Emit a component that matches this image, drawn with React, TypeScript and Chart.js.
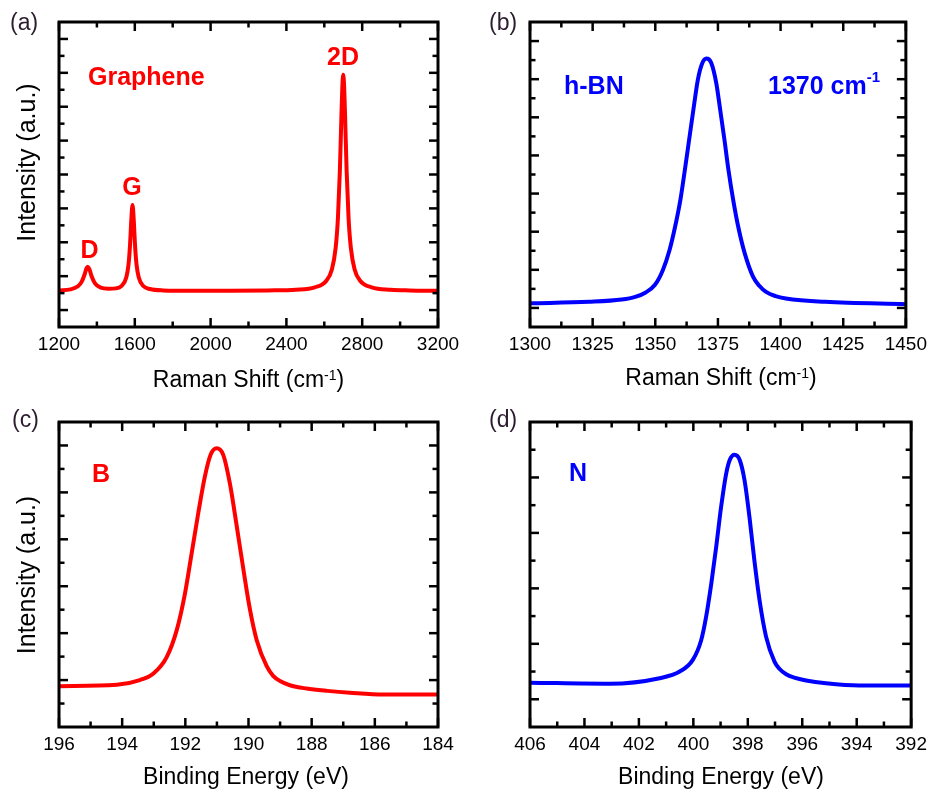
import React, { useEffect, useRef } from 'react';
import { Chart, registerables } from 'chart.js';

Chart.register(...registerables);

const FONT = "'Liberation Sans', Arial, Helvetica, sans-serif";
const RED = '#ff0000';
const BLUE = '#0000ff';
const LABEL_COLOR = '#2d1c30';

// (a) Raman spectrum of graphene
const grapheneShift = [1200, 1260, 1300, 1320, 1335, 1345, 1352, 1360, 1372, 1390, 1420, 1460, 1500, 1530, 1555, 1567, 1575, 1581, 1588, 1595, 1601, 1609, 1621, 1645, 1680, 1750, 1900, 2100, 2300, 2450, 2550, 2610, 2640, 2660, 2672, 2682, 2690, 2695, 2700, 2705, 2710, 2718, 2728, 2740, 2760, 2790, 2850, 2950, 3050, 3200];
const grapheneIntensity = [0.58, 0.61, 0.70, 0.84, 1.05, 1.23, 1.28, 1.21, 1.00, 0.79, 0.66, 0.63, 0.64, 0.71, 0.96, 1.35, 1.93, 2.60, 3.10, 2.60, 1.93, 1.35, 0.96, 0.71, 0.62, 0.58, 0.57, 0.57, 0.58, 0.60, 0.67, 0.86, 1.20, 1.84, 2.72, 4.08, 5.66, 6.56, 6.94, 6.56, 5.66, 4.08, 2.72, 1.84, 1.20, 0.86, 0.67, 0.60, 0.58, 0.57];
const grapheneXMajor = [1200, 1600, 2000, 2400, 2800, 3200];
const grapheneXMinor = [1400, 1800, 2200, 2600, 3000];
const grapheneYMajor = [0, 1, 2, 3, 4, 5, 6, 7, 8];
const grapheneYMinor = [0.5, 1.5, 2.5, 3.5, 4.5, 5.5, 6.5, 7.5];

// (b) Raman spectrum of h-BN
const hbnShift = [1300, 1323.6, 1336.6, 1342.0, 1346.0, 1349.8, 1353.0, 1355.7, 1357.9, 1360.0, 1361.8, 1363.5, 1365.2, 1367.0, 1368.7, 1370.4, 1372.3, 1374.3, 1375.9, 1377.6, 1379.2, 1381.1, 1383.1, 1385.7, 1389.0, 1391.5, 1394.2, 1398.0, 1402.1, 1417.8, 1450];
const hbnIntensity = [0.12, 0.16, 0.22, 0.29, 0.40, 0.60, 0.99, 1.52, 2.13, 2.83, 3.62, 4.41, 5.20, 5.99, 6.41, 6.54, 6.43, 5.91, 5.20, 4.41, 3.62, 2.83, 2.13, 1.43, 0.82, 0.58, 0.42, 0.31, 0.25, 0.16, 0.10];
const hbnXMajor = [1300, 1325, 1350, 1375, 1400, 1425, 1450];
const hbnXMinor = [1312.5, 1337.5, 1362.5, 1387.5, 1412.5, 1437.5];
const hbnYMajor = [0, 1, 2, 3, 4, 5, 6, 7];
const hbnYMinor = [0.5, 1.5, 2.5, 3.5, 4.5, 5.5, 6.5];

// (c) XPS B 1s
const boronEnergy = [196, 194.17, 193.44, 193.01, 192.59, 192.27, 192.01, 191.80, 191.59, 191.38, 191.20, 191.01, 190.80, 190.59, 190.37, 190.16, 189.95, 189.74, 189.42, 189.22, 189.00, 188.69, 188.16, 187.50, 186.79, 185.73, 184];
const boronIntensity = [-0.13, -0.10, 0.00, 0.14, 0.49, 1.07, 1.85, 2.70, 3.56, 4.34, 4.80, 4.94, 4.80, 4.19, 3.27, 2.35, 1.49, 0.85, 0.29, 0.09, -0.02, -0.11, -0.18, -0.23, -0.27, -0.31, -0.31];
const boronXMajor = [196, 194, 192, 190, 188, 186, 184];
const boronXMinor = [195, 193, 191, 189, 187, 185];
const boronYMajor = [0, 1, 2, 3, 4, 5];
const boronYMinor = [-0.5, 0.5, 1.5, 2.5, 3.5, 4.5];

// (d) XPS N 1s
const nitrogenEnergy = [406, 403.07, 401.24, 400.50, 400.02, 399.71, 399.53, 399.34, 399.16, 398.98, 398.79, 398.65, 398.49, 398.30, 398.12, 397.94, 397.76, 397.57, 397.33, 397.02, 396.84, 396.59, 396.29, 395.86, 395.13, 393.91, 392];
const nitrogenIntensity = [0.30, 0.28, 0.38, 0.50, 0.71, 1.07, 1.49, 2.09, 2.75, 3.47, 4.08, 4.33, 4.41, 4.32, 3.95, 3.29, 2.51, 1.79, 1.13, 0.68, 0.55, 0.45, 0.39, 0.34, 0.29, 0.25, 0.25];
const nitrogenXMajor = [406, 404, 402, 400, 398, 396, 394, 392];
const nitrogenXMinor = [405, 403, 401, 399, 397, 395, 393];
const nitrogenYMajor = [0, 1, 2, 3, 4];
const nitrogenYMinor = [0.5, 1.5, 2.5, 3.5, 4.5];

type Piece = { text: string; size: number; bold?: boolean; dy?: number };
type TextItem = { pieces: Piece[]; x: number; y: number; align: 'left' | 'center'; color: string; rotate?: boolean };

type Panel = {
  key: string;
  left: number; top: number; width: number; height: number;
  xs: number[]; ys: number[]; color: string;
  xMin: number; xMax: number; reverse: boolean;
  yMin: number; yMax: number;
  xMajor: number[]; xMinor: number[]; yMajor: number[]; yMinor: number[];
  yAxisWidth: number; xAxisHeight: number; padRight: number; padTop: number;
  texts: TextItem[];
};

const ramanTitle: Piece[] = [
  { text: 'Raman Shift (cm', size: 23 },
  { text: '-1', size: 14, dy: -7 },
  { text: ')', size: 23 },
];
const bindingTitle: Piece[] = [{ text: 'Binding Energy (eV)', size: 23 }];
const intensityTitle: Piece[] = [{ text: 'Intensity (a.u.)', size: 25 }];

const panels: Panel[] = [
  {
    key: 'a', left: 0, top: 0, width: 466, height: 400,
    xs: grapheneShift, ys: grapheneIntensity, color: RED,
    xMin: 1200, xMax: 3200, reverse: false, yMin: -0.5, yMax: 8.5,
    xMajor: grapheneXMajor, xMinor: grapheneXMinor, yMajor: grapheneYMajor, yMinor: grapheneYMinor,
    yAxisWidth: 59, xAxisHeight: 73, padRight: 28, padTop: 22,
    texts: [
      { pieces: [{ text: '(a)', size: 23 }], x: 10, y: 30, align: 'left', color: LABEL_COLOR },
      { pieces: ramanTitle, x: 248.5, y: 386.5, align: 'center', color: '#000' },
      { pieces: intensityTitle, x: 35, y: 162.5, align: 'center', color: '#000', rotate: true },
      { pieces: [{ text: 'Graphene', size: 25, bold: true }], x: 88, y: 85, align: 'left', color: RED },
      { pieces: [{ text: '2D', size: 25, bold: true }], x: 343, y: 65, align: 'center', color: RED },
      { pieces: [{ text: 'G', size: 25, bold: true }], x: 132, y: 195, align: 'center', color: RED },
      { pieces: [{ text: 'D', size: 25, bold: true }], x: 89.5, y: 258, align: 'center', color: RED },
    ],
  },
  {
    key: 'b', left: 466, top: 0, width: 467, height: 400,
    xs: hbnShift, ys: hbnIntensity, color: BLUE,
    xMin: 1300, xMax: 1450, reverse: false, yMin: -0.5, yMax: 7.5,
    xMajor: hbnXMajor, xMinor: hbnXMinor, yMajor: hbnYMajor, yMinor: hbnYMinor,
    yAxisWidth: 64, xAxisHeight: 73, padRight: 21, padTop: 22,
    texts: [
      { pieces: [{ text: '(b)', size: 23 }], x: 23, y: 30, align: 'left', color: LABEL_COLOR },
      { pieces: ramanTitle, x: 255, y: 385, align: 'center', color: '#000' },
      { pieces: [{ text: 'h-BN', size: 25, bold: true }], x: 98, y: 94, align: 'left', color: BLUE },
      {
        pieces: [
          { text: '1370 cm', size: 25, bold: true },
          { text: '-1', size: 15, bold: true, dy: -12 },
        ],
        x: 302, y: 94, align: 'left', color: BLUE,
      },
    ],
  },
  {
    key: 'c', left: 0, top: 400, width: 466, height: 389,
    xs: boronEnergy, ys: boronIntensity, color: RED,
    xMin: 184, xMax: 196, reverse: true, yMin: -1, yMax: 5.5,
    xMajor: boronXMajor, xMinor: boronXMinor, yMajor: boronYMajor, yMinor: boronYMinor,
    yAxisWidth: 59, xAxisHeight: 62, padRight: 28, padTop: 22,
    texts: [
      { pieces: [{ text: '(c)', size: 23 }], x: 12, y: 27, align: 'left', color: LABEL_COLOR },
      { pieces: bindingTitle, x: 246, y: 384, align: 'center', color: '#000' },
      { pieces: intensityTitle, x: 34.5, y: 175, align: 'center', color: '#000', rotate: true },
      { pieces: [{ text: 'B', size: 25, bold: true }], x: 92, y: 82, align: 'left', color: RED },
    ],
  },
  {
    key: 'd', left: 466, top: 400, width: 467, height: 389,
    xs: nitrogenEnergy, ys: nitrogenIntensity, color: BLUE,
    xMin: 392, xMax: 406, reverse: true, yMin: -0.5, yMax: 5,
    xMajor: nitrogenXMajor, xMinor: nitrogenXMinor, yMajor: nitrogenYMajor, yMinor: nitrogenYMinor,
    yAxisWidth: 64, xAxisHeight: 62, padRight: 21, padTop: 22,
    texts: [
      { pieces: [{ text: '(d)', size: 23 }], x: 23, y: 27, align: 'left', color: LABEL_COLOR },
      { pieces: bindingTitle, x: 255, y: 384, align: 'center', color: '#000' },
      { pieces: [{ text: 'N', size: 25, bold: true }], x: 103, y: 81, align: 'left', color: BLUE },
    ],
  },
];

function fontOf(p: Piece) {
  return `${p.bold ? 'bold ' : ''}${p.size}px ${FONT}`;
}

function drawText(ctx: CanvasRenderingContext2D, t: TextItem) {
  ctx.save();
  ctx.fillStyle = t.color;
  ctx.textBaseline = 'alphabetic';
  ctx.textAlign = 'left';
  const widths = t.pieces.map((p) => {
    ctx.font = fontOf(p);
    return ctx.measureText(p.text).width;
  });
  const total = widths.reduce((a, b) => a + b, 0);
  ctx.translate(t.x, t.y);
  if (t.rotate) ctx.rotate(-Math.PI / 2);
  let x = t.align === 'center' ? -total / 2 : 0;
  t.pieces.forEach((p, i) => {
    ctx.font = fontOf(p);
    ctx.fillText(p.text, x, p.dy || 0);
    x += widths[i];
  });
  ctx.restore();
}

function makeDecor(p: Panel) {
  return {
    id: 'decor_' + p.key,
    afterDraw(chart: any) {
      const ctx: CanvasRenderingContext2D = chart.ctx;
      const { left, right, top, bottom } = chart.chartArea;
      const xs = chart.scales.x;
      const ys = chart.scales.y;
      ctx.save();
      ctx.strokeStyle = '#000';
      ctx.lineCap = 'butt';
      ctx.lineWidth = 2.5;
      const seg = (x1: number, y1: number, x2: number, y2: number) => {
        ctx.beginPath();
        ctx.moveTo(x1, y1);
        ctx.lineTo(x2, y2);
        ctx.stroke();
      };
      const xTicks = (vals: number[], len: number) =>
        vals.forEach((v) => {
          const px = xs.getPixelForValue(v);
          seg(px, bottom, px, bottom - len);
          seg(px, top, px, top + len);
        });
      const yTicks = (vals: number[], len: number) =>
        vals.forEach((v) => {
          const py = ys.getPixelForValue(v);
          seg(left, py, left + len, py);
          seg(right, py, right - len, py);
        });
      xTicks(p.xMajor, 9);
      xTicks(p.xMinor, 5.5);
      yTicks(p.yMajor, 9);
      yTicks(p.yMinor, 5.5);
      ctx.lineWidth = 3;
      ctx.strokeRect(left, top, right - left, bottom - top);
      ctx.restore();
      p.texts.forEach((t) => drawText(ctx, t));
    },
  };
}

function PanelChart({ p }: { p: Panel }) {
  const ref = useRef<HTMLCanvasElement>(null);
  useEffect(() => {
    if (!ref.current) return;
    const chart = new Chart(ref.current, {
      type: 'line',
      data: {
        datasets: [
          {
            data: p.xs.map((x, i) => ({ x, y: p.ys[i] })),
            borderColor: p.color,
            borderWidth: 4,
            pointRadius: 0,
            cubicInterpolationMode: 'monotone',
            borderJoinStyle: 'round',
            borderCapStyle: 'round',
            fill: false,
          } as any,
        ],
      },
      options: {
        animation: false,
        responsive: false,
        devicePixelRatio: 1,
        events: [],
        layout: { padding: { left: 0, top: p.padTop, right: p.padRight, bottom: 0 } },
        plugins: {
          legend: { display: false },
          tooltip: { enabled: false },
          title: { display: false },
        },
        scales: {
          x: {
            type: 'linear',
            min: p.xMin,
            max: p.xMax,
            reverse: p.reverse,
            grid: { display: false, drawTicks: false },
            border: { display: false },
            ticks: {
              font: { family: FONT, size: 19 },
              color: '#000',
              padding: 6,
              maxRotation: 0,
              autoSkip: false,
              callback: (v: any) => String(v),
            },
            afterBuildTicks: (s: any) => {
              s.ticks = p.xMajor.map((v) => ({ value: v }));
            },
            afterFit: (s: any) => {
              s.height = p.xAxisHeight;
            },
          },
          y: {
            type: 'linear',
            min: p.yMin,
            max: p.yMax,
            grid: { display: false, drawTicks: false },
            border: { display: false },
            ticks: { display: false },
            afterBuildTicks: (s: any) => {
              s.ticks = p.yMajor.map((v) => ({ value: v }));
            },
            afterFit: (s: any) => {
              s.width = p.yAxisWidth;
            },
          },
        },
      } as any,
      plugins: [makeDecor(p)],
    });
    return () => chart.destroy();
  }, [p]);
  return (
    <canvas
      ref={ref}
      width={p.width}
      height={p.height}
      style={{ position: 'absolute', left: p.left, top: p.top, width: p.width, height: p.height }}
    />
  );
}

export default function App() {
  return (
    <div style={{ position: 'absolute', left: 0, top: 0, width: 933, height: 789, background: '#fff', overflow: 'hidden' }}>
      {panels.map((p) => (
        <PanelChart key={p.key} p={p} />
      ))}
    </div>
  );
}
